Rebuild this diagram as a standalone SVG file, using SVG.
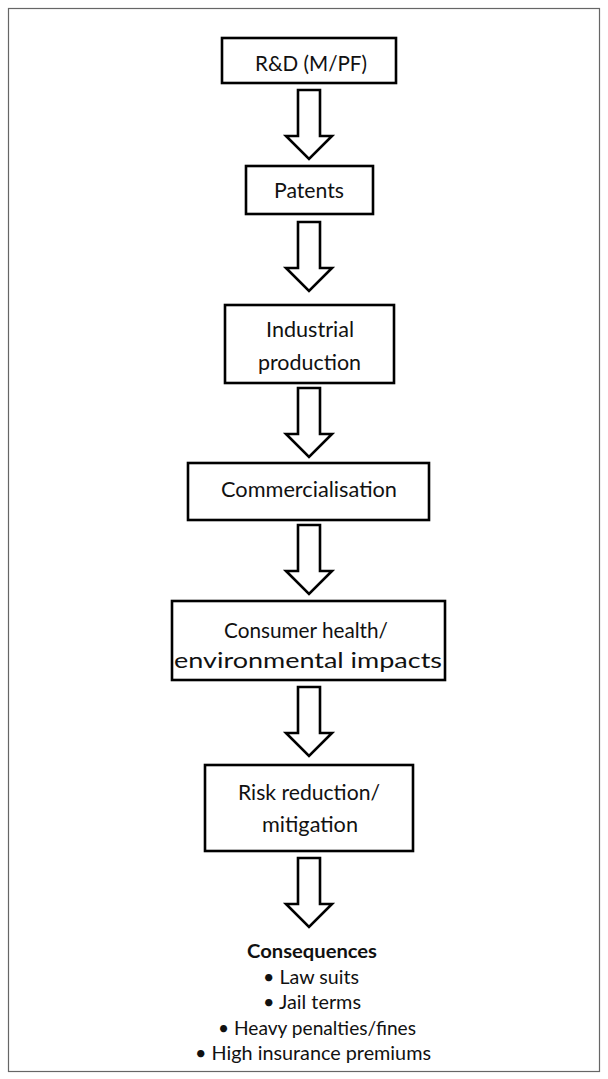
<svg xmlns="http://www.w3.org/2000/svg" width="608" height="1079" viewBox="0 0 608 1079">
<style>
.box{fill:#fff;stroke:#000;stroke-width:2.6}
.arr{fill:#fff;stroke:#000;stroke-width:2.6;stroke-linejoin:miter}
text{font-family:Lato,"Open Sans","Liberation Sans",sans-serif;font-size:21px;fill:#111;text-anchor:middle}
.b{font-weight:bold}
.s{font-size:19px}
</style>
<rect x="0" y="0" width="608" height="1079" fill="#fff"/>
<rect x="8.5" y="8.5" width="591" height="1063" fill="none" stroke="#666" stroke-width="1.2"/>
<g id="connectors">
<polygon class="arr" points="298,90 320,90 320,136 332,136 309,159 286,136 298,136"/>
<polygon class="arr" points="298,222 320,222 320,268 332,268 309,291 286,268 298,268"/>
<polygon class="arr" points="298,388 320,388 320,434 332,434 309,457 286,434 298,434"/>
<polygon class="arr" points="298,525 320,525 320,571 332,571 309,594 286,571 298,571"/>
<polygon class="arr" points="298,687 320,687 320,733 332,733 309,756 286,733 298,733"/>
<polygon class="arr" points="298,858 320,858 320,904 332,904 309,927 286,904 298,904"/>
</g>
<g id="n1"><rect class="box" x="222" y="38" width="174" height="45"/><text x="311" y="71" textLength="112" lengthAdjust="spacingAndGlyphs">R&amp;D (M/PF)</text></g>
<g id="n2"><rect class="box" x="246" y="166" width="127" height="48"/><text x="309" y="198" textLength="70" lengthAdjust="spacingAndGlyphs">Patents</text></g>
<g id="n3"><rect class="box" x="225" y="305" width="169" height="78"/><text x="310" y="337" textLength="88" lengthAdjust="spacingAndGlyphs">Industrial</text><text x="309.5" y="370" textLength="103" lengthAdjust="spacingAndGlyphs">production</text></g>
<g id="n4"><rect class="box" x="188" y="463" width="241" height="57"/><text x="309" y="497" textLength="176" lengthAdjust="spacingAndGlyphs">Commercialisation</text></g>
<g id="n5"><rect class="box" x="172" y="601" width="273" height="79"/><text x="306" y="638" textLength="164" lengthAdjust="spacingAndGlyphs">Consumer health/</text><text x="308" y="668" textLength="268" lengthAdjust="spacingAndGlyphs">environmental impacts</text></g>
<g id="n6"><rect class="box" x="205" y="765" width="208" height="86"/><text x="309" y="800" textLength="142" lengthAdjust="spacingAndGlyphs">Risk reduction/</text><text x="310" y="832" textLength="96" lengthAdjust="spacingAndGlyphs">mitigation</text></g>
<g id="n7">
<text class="s b" x="312" y="958" textLength="130" lengthAdjust="spacingAndGlyphs">Consequences</text>
<text class="s" x="311" y="984" textLength="96" lengthAdjust="spacingAndGlyphs">• Law suits</text>
<text class="s" x="312" y="1009" textLength="98" lengthAdjust="spacingAndGlyphs">• Jail terms</text>
<text class="s" x="317" y="1035" textLength="198" lengthAdjust="spacingAndGlyphs">• Heavy penalties/fines</text>
<text class="s" x="313" y="1060" textLength="236" lengthAdjust="spacingAndGlyphs">• High insurance premiums</text>
</g>
</svg>
